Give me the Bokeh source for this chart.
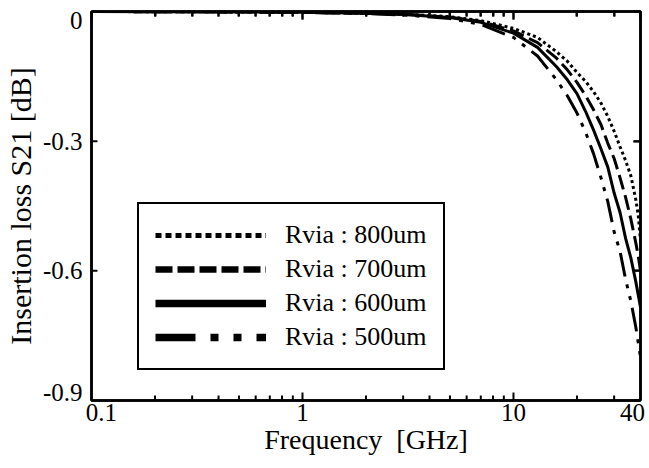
import numpy as np
from bokeh.plotting import figure
from bokeh.models import (FixedTicker, LinearAxis, LogAxis, CustomJSTickFormatter, Legend,
                          LegendItem)
from bokeh.embed import file_html
from bokeh.resources import INLINE

# ---- data ----
freq = [0.1, 0.2, 0.5, 1, 2, 3, 5, 7, 10, 13, 16, 18, 20, 22, 24, 26, 28, 30, 32, 34, 36, 38, 39, 40]
s21_800 = [0, -0.0005, -0.001, -0.002, -0.004, -0.006, -0.012, -0.021, -0.039, -0.060, -0.093, -0.115,
           -0.141, -0.162, -0.186, -0.212, -0.243, -0.277, -0.313, -0.345, -0.380, -0.435, -0.470, -0.530]
s21_700 = [0, -0.0005, -0.001, -0.002, -0.004, -0.006, -0.013, -0.023, -0.045, -0.072, -0.108, -0.135,
           -0.164, -0.195, -0.228, -0.262, -0.305, -0.340, -0.385, -0.430, -0.480, -0.535, -0.565, -0.600]
s21_600 = [0, -0.0005, -0.001, -0.002, -0.004, -0.007, -0.014, -0.025, -0.050, -0.083, -0.128, -0.158,
           -0.190, -0.232, -0.275, -0.318, -0.360, -0.420, -0.465, -0.525, -0.570, -0.625, -0.655, -0.685]
s21_500 = [0, -0.0005, -0.001, -0.002, -0.005, -0.008, -0.016, -0.030, -0.060, -0.103, -0.158, -0.195,
           -0.235, -0.280, -0.330, -0.385, -0.440, -0.510, -0.555, -0.620, -0.670, -0.730, -0.765, -0.800]
series_labels = ["Rvia : 800um", "Rvia : 700um", "Rvia : 600um", "Rvia : 500um"]

xtick_vals = [0.1, 1, 10, 40]
xtick_labels = ["0.1", "1", "10", "40"]
xminor_vals = [0.2, 0.3, 0.4, 0.5, 0.6, 0.7, 0.8, 0.9, 2, 3, 4, 5, 6, 7, 8, 9, 20, 30]
ytick_vals = [-0.9, -0.6, -0.3, 0]
ytick_labels = ["-0.9", "-0.6", "-0.3", "0"]

FONT = "Liberation Serif"
XMIN, XMAX, YMIN, YMAX = 0.1, 40.0, -0.9, 0.0
FRAME_W, FRAME_H = 551, 389

p = figure(width=649, height=468, x_axis_type="log", x_range=(XMIN, XMAX), y_range=(YMIN, YMAX),
           output_backend="svg", toolbar_location=None,
           min_border_left=89, min_border_right=9, min_border_top=11, min_border_bottom=68)
p.grid.visible = False
p.outline_line_color = "black"
p.outline_line_width = 2.5
p.outline_line_alpha = 1
p.background_fill_color = "white"
p.border_fill_color = "white"

# curves: (plot dash, legend dash, legend width)
styles = [("3 3", "6 4", 5, s21_800),
          ("15 6", "17 5", 6.5, s21_700),
          ("solid", "solid", 7.5, s21_600),
          ("24 8 4 8 4 8", "40 15 8 15 8 15", 7.5, s21_500)]
items = []
for (dash, ldash, lw, ys), lab in zip(styles, series_labels):
    p.line(freq, ys, line_color="black", line_width=3, line_dash=dash, line_cap="butt")
    proxy = p.line(x=[float("nan")], y=[float("nan")], line_color="black", line_width=lw,
                   line_dash=ldash, line_cap="butt")
    items.append(LegendItem(label=lab, renderers=[proxy]))

# inward tick marks, built from the tick arrays
dy = (YMAX - YMIN) / FRAME_H                          # data units per pixel (y)
kx = float(10 ** (np.log10(XMAX / XMIN) / FRAME_W))   # x factor per pixel (log axis)
tick_xs, tick_ys = [], []
for vals, L in ((xtick_vals[1:-1], 8), (xminor_vals, 5)):
    for v in vals:
        v = float(v)
        tick_xs += [[v, v], [v, v]]
        tick_ys += [[YMIN, YMIN + L * dy], [YMAX, YMAX - L * dy]]
for v in ytick_vals[1:-1]:
    v = float(v)
    tick_xs += [[XMIN, XMIN * kx ** 6], [XMAX, XMAX / kx ** 7]]
    tick_ys += [[v, v], [v, v]]
p.multi_line(xs=tick_xs, ys=tick_ys, line_color="black", line_width=2, line_alpha=1)

# tick-label positions: end labels nudged inward as in the reference
xlab_pos = [xtick_vals[0] * kx ** 10] + xtick_vals[1:-1] + [xtick_vals[-1] / kx ** 8]
ylab_pos = [ytick_vals[0] + 8 * dy] + ytick_vals[1:-1] + [ytick_vals[-1] - 9 * dy]

LOOKUP = """
let best = 0, d = Infinity;
for (let i = 0; i < pos.length; i++) {
  const e = Math.abs(pos[i] - tick) / Math.max(Math.abs(pos[i]), 1e-9);
  if (e < d) { d = e; best = i; }
}
return labs[best];
"""


def style_axis(ax, show_labels, label_size="28px"):
    ax.axis_line_color = "black"
    ax.axis_line_width = 2.5
    ax.major_tick_in = 0
    ax.major_tick_out = 0
    ax.minor_tick_in = 0
    ax.minor_tick_out = 0
    ax.major_tick_line_color = None
    ax.minor_tick_line_color = None
    ax.major_label_text_font = FONT
    ax.major_label_text_font_size = "25px"
    ax.major_label_text_color = "black"
    ax.axis_label_text_font = FONT
    ax.axis_label_text_font_size = label_size
    ax.axis_label_text_font_style = "normal"
    ax.axis_label_text_color = "black"
    if not show_labels:
        ax.major_label_text_font_size = "0px"
        ax.major_label_text_color = None


xa = p.xaxis[0]
xa.ticker = FixedTicker(ticks=xlab_pos, minor_ticks=[])
xa.formatter = CustomJSTickFormatter(args=dict(pos=xlab_pos, labs=xtick_labels), code=LOOKUP)
xa.axis_label = "Frequency\u00a0\u00a0[GHz]"
style_axis(xa, True, "28px")
xa.major_label_standoff = 3
xa.axis_label_standoff = 0

ya = p.yaxis[0]
ya.ticker = FixedTicker(ticks=ylab_pos, minor_ticks=[])
ya.formatter = CustomJSTickFormatter(args=dict(pos=ylab_pos, labs=ytick_labels), code=LOOKUP)
ya.axis_label = "Insertion loss S21 [dB]"
style_axis(ya, True, "30px")
ya.major_label_standoff = 9
ya.axis_label_standoff = 3

# top and right frame axes (no labels), with inward ticks
top = LogAxis(ticker=FixedTicker(ticks=xtick_vals, minor_ticks=xminor_vals))
style_axis(top, False)
top.major_tick_line_color = "black"
top.minor_tick_line_color = "black"
top.major_tick_line_width = 2
top.minor_tick_line_width = 2
top.major_tick_in = 8
top.minor_tick_in = 5
p.add_layout(top, "above")
right = LinearAxis(ticker=FixedTicker(ticks=ytick_vals, minor_ticks=[]))
style_axis(right, False)
right.major_tick_line_color = "black"
right.major_tick_line_width = 2
right.major_tick_in = 7
p.add_layout(right, "right")

lg = Legend(items=items, location=(46, 30))
lg.border_line_color = "black"
lg.border_line_width = 2.5
lg.border_line_alpha = 1
lg.background_fill_color = "white"
lg.background_fill_alpha = 1
lg.label_text_font = FONT
lg.label_text_font_size = "26px"
lg.label_text_color = "black"
lg.label_text_baseline = "middle"
lg.glyph_width = 111
lg.glyph_height = 30
lg.label_height = 30
lg.label_standoff = 19
lg.spacing = 4
lg.padding = 16
lg.margin = 0
p.add_layout(lg)

open("out.html", "w").write(file_html(p, INLINE))
